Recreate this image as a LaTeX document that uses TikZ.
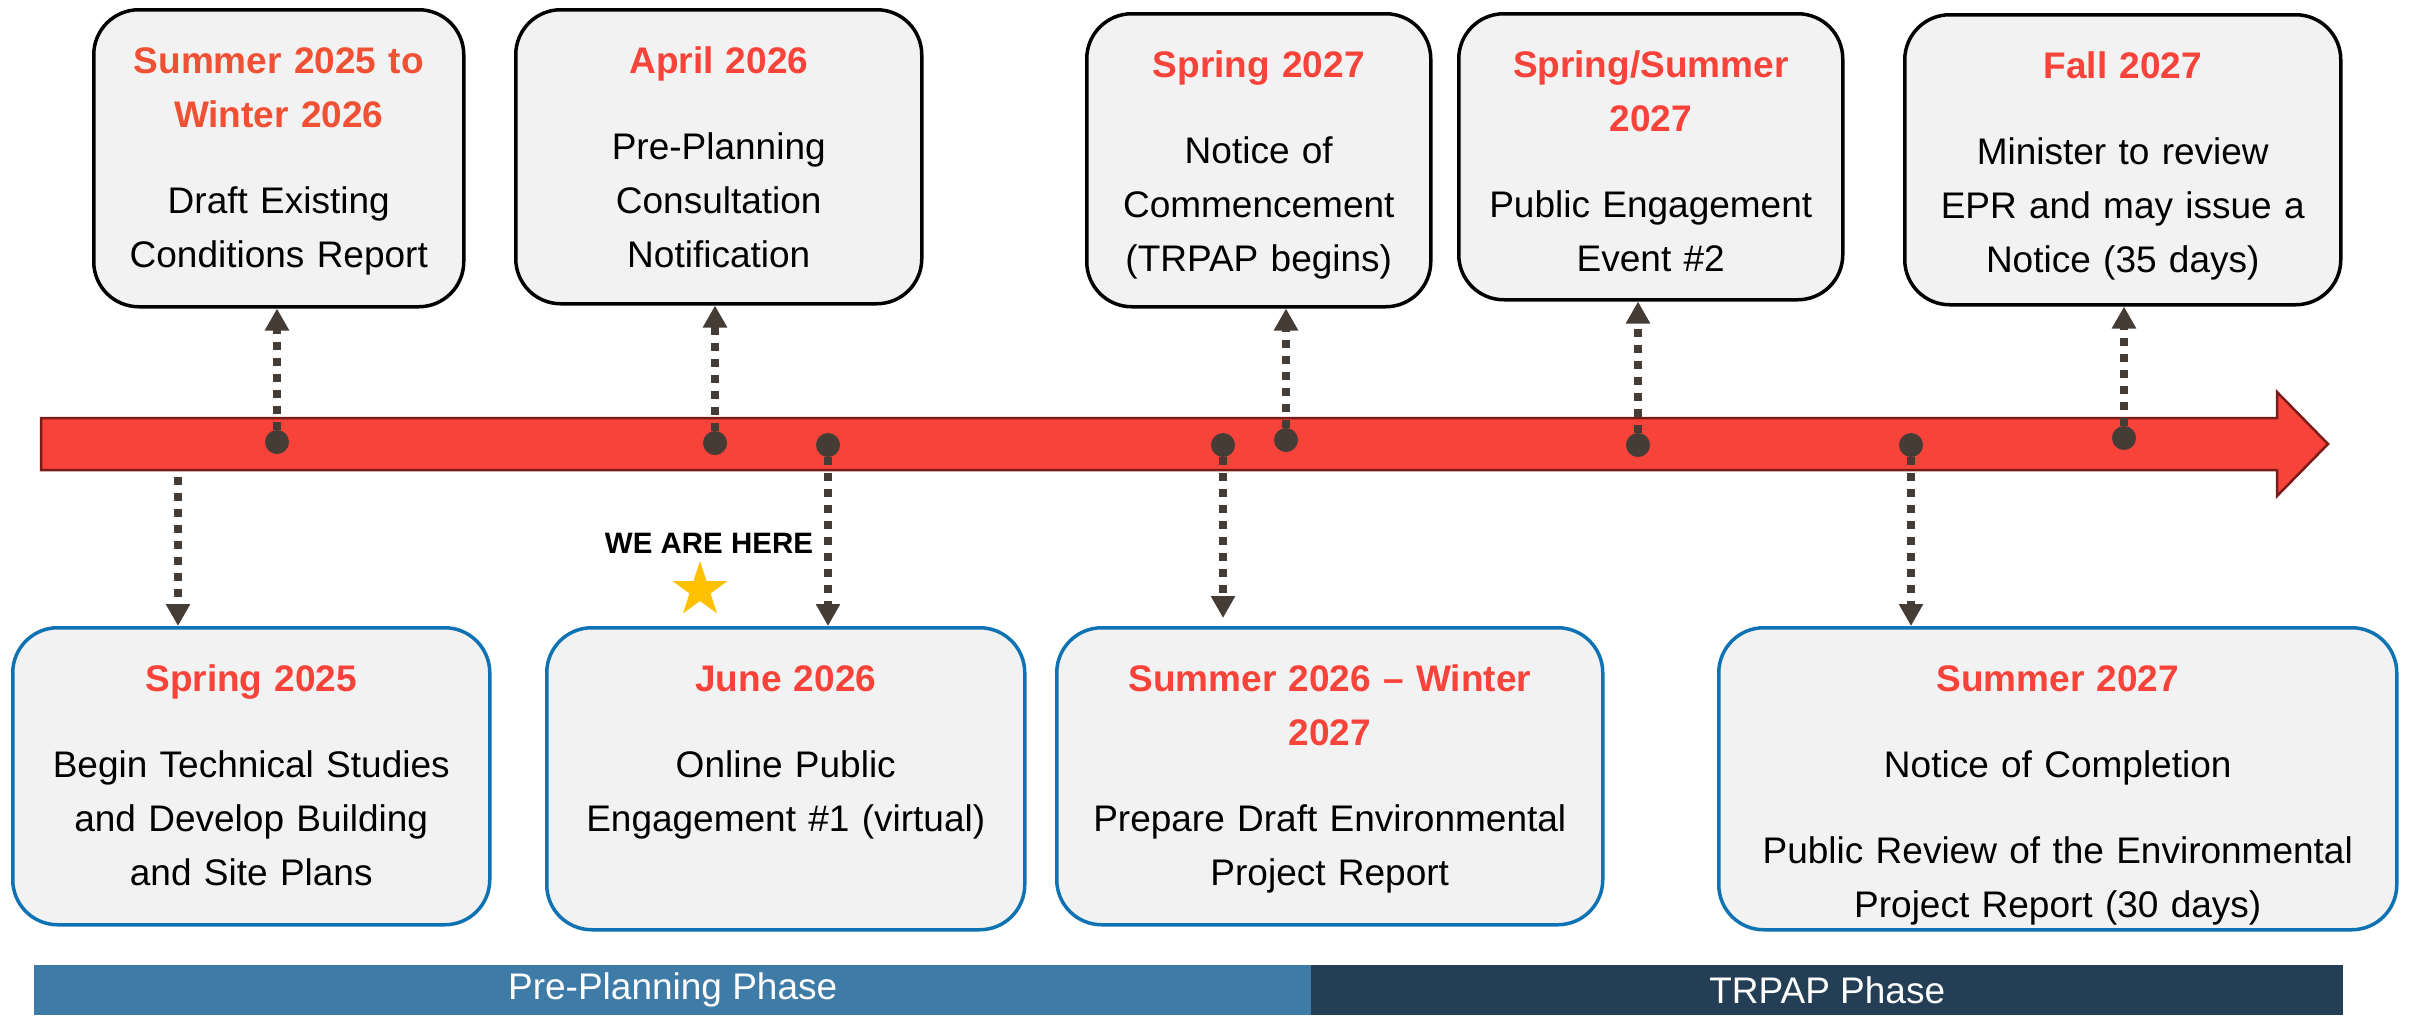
\documentclass[tikz,border=0pt]{standalone}
\usepackage{fontspec}
\setmainfont{Liberation Sans}
\usetikzlibrary{arrows.meta,shapes.geometric,calc}
\definecolor{boxfill}{HTML}{F2F2F2}
\definecolor{bluebd}{HTML}{0F72B3}
\definecolor{ttlred}{HTML}{F8433A}
\definecolor{ttlorange}{HTML}{F05033}
\definecolor{barred}{HTML}{F8433A}
\definecolor{bardark}{HTML}{7A1C17}
\definecolor{conncol}{HTML}{463C36}
\definecolor{starcol}{HTML}{FFC000}
\definecolor{prephase}{HTML}{3F7BA7}
\definecolor{trpapcol}{HTML}{233E55}
\newcommand\ttl[1]{{\bfseries\color{ttlred}#1}}
\newcommand\ttlo[1]{{\bfseries\color{ttlorange}#1}}
\newcommand\sttop{\rule{0pt}{28pt}}
\tikzset{
  evbox/.style={rounded corners=45pt, line width=3.5pt, fill=boxfill, inner sep=0pt, anchor=north west},
  topbox/.style={evbox, draw=black},
  botbox/.style={evbox, draw=bluebd},
  txt/.style={anchor=north, inner sep=0pt, text width=640pt, align=center, font=\fontsize{37}{54}\selectfont},
  conn/.style={draw=conncol, line width=8pt, dash pattern=on 8pt off 8pt, -{Triangle[width=23pt,length=22pt]}},
  evdot/.style={circle, fill=conncol, minimum size=24pt, inner sep=0pt},
  phase/.style={anchor=north west, inner sep=0pt, text=white, font=\fontsize{37}{40}\selectfont}
}
\begin{document}
\begin{tikzpicture}[x=1pt,y=-1pt]
\useasboundingbox (0,0) rectangle (2412,1015);
% timeline bar
\draw[fill=barred, draw=bardark, line width=2.5pt]
  (41,418) -- (2277,418) -- (2277,392) -- (2328,444) -- (2277,496) -- (2277,470) -- (41,470) -- cycle;
% top boxes
\node[topbox, minimum width=370pt, minimum height=297pt] (T1) at (92,8) {};
\node[topbox, minimum width=406pt, minimum height=294pt] (T2) at (514,8) {};
\node[topbox, minimum width=344pt, minimum height=293pt] (T3) at (1085,12) {};
\node[topbox, minimum width=384pt, minimum height=286pt] (T4) at (1457,12) {};
\node[topbox, minimum width=436pt, minimum height=290pt] (T5) at (1903,13) {};
\node[txt] (T1t) at ($(T1.north)+(0,37)$) {\sttop\ttlo{Summer 2025 to\\Winter 2026}\\[32pt]Draft Existing\\Conditions Report};
\node[txt] (T2t) at ($(T2.north)+(0,37)$) {\sttop\ttl{April 2026}\\[32pt]Pre-Planning\\Consultation\\Notification};
\node[txt] (T3t) at ($(T3.north)+(0,37)$) {\sttop\ttl{Spring 2027}\\[32pt]Notice of\\Commencement\\(TRPAP begins)};
\node[txt] (T4t) at ($(T4.north)+(0,37)$) {\sttop\ttl{Spring/Summer\\2027}\\[32pt]Public Engagement\\Event \#2};
\node[txt] (T5t) at ($(T5.north)+(0,37)$) {\sttop\ttl{Fall 2027}\\[32pt]Minister to review\\EPR and may issue a\\Notice (35 days)};
% bottom boxes
\node[botbox, minimum width=477pt, minimum height=297pt] (B1) at (11,626) {};
\node[botbox, minimum width=478pt, minimum height=302pt] (B2) at (545,626) {};
\node[botbox, minimum width=546pt, minimum height=297pt] (B3) at (1055,626) {};
\node[botbox, minimum width=678pt, minimum height=302pt] (B4) at (1717,626) {};
\node[txt] (B1t) at ($(B1.north)+(0,37)$) {\sttop\ttl{Spring 2025}\\[32pt]Begin Technical Studies\\and Develop Building\\and Site Plans};
\node[txt] (B2t) at ($(B2.north)+(0,37)$) {\sttop\ttl{June 2026}\\[32pt]Online Public\\Engagement \#1 (virtual)};
\node[txt] (B3t) at ($(B3.north)+(0,37)$) {\sttop\ttl{Summer 2026 -- Winter\\2027}\\[32pt]Prepare Draft Environmental\\Project Report};
\node[txt] (B4t) at ($(B4.north)+(0,37)$) {\sttop\ttl{Summer 2027}\\[32pt]Notice of Completion\\[32pt]Public Review of the Environmental\\Project Report (30 days)};
% dots
\node[evdot] (d1) at (277,442) {};
\node[evdot] (d2) at (715,443) {};
\node[evdot] (d3) at (828,445) {};
\node[evdot] (d4) at (1223,445) {};
\node[evdot] (d5) at (1286,440) {};
\node[evdot] (d6) at (1638,445) {};
\node[evdot] (d7) at (1911,445) {};
\node[evdot] (d8) at (2124,438) {};
\coordinate (s9) at (178,477);
% connectors
\draw[conn] (d1) -- (d1 |- T1.south);
\draw[conn] (d2) -- (d2 |- T2.south);
\draw[conn] (d5) -- (d5 |- T3.south);
\draw[conn] (d6) -- (d6 |- T4.south);
\draw[conn] (d8) -- (d8 |- T5.south);
\draw[conn] (s9) -- (s9 |- B1.north);
\draw[conn] (d3) -- (d3 |- B2.north);
\draw[conn, shorten >=8pt] (d4) -- (d4 |- B3.north);
\draw[conn] (d7) -- (d7 |- B4.north);
% we are here
\node[inner sep=0pt, font=\bfseries\fontsize{29.5}{32}\selectfont] (here) at (709,543) {WE ARE HERE};
\node[star, star points=5, star point ratio=2.618, fill=starcol, minimum size=58pt, inner sep=0pt] (star) at (700,590) {};
% phases
\node[phase, fill=prephase, minimum width=1277pt, minimum height=50pt] (P1) at (34,965) {Pre-Planning Phase};
\node[phase, fill=trpapcol, minimum width=1032pt, minimum height=50pt] (P2) at (1311,965) {TRPAP Phase};
\end{tikzpicture}
\end{document}
